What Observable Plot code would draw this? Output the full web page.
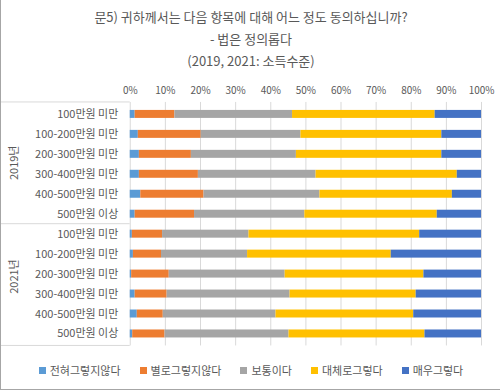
<!DOCTYPE html>
<html>
<head>
<meta charset="utf-8">
<script src="https://cdn.jsdelivr.net/npm/d3@7"></script>
<script src="https://cdn.jsdelivr.net/npm/@observablehq/plot@0.6"></script>
<style>
  html, body { margin: 0; padding: 0; background: #fff; }
  #wrap { position: relative; width: 500px; height: 390px; box-sizing: border-box;
          border-left: 1px solid #a6a6a6; border-bottom: 1px solid #a6a6a6; overflow: hidden;
          font-family: "Noto Sans CJK KR", "Noto Sans", sans-serif; color: #595959; }
  #title { position: absolute; left: 0; top: 6px; width: 500px; text-align: center;
           font-size: 13px; line-height: 22px; }
  #chart { position: absolute; left: -1px; top: 72px; }
  #legend { position: absolute; left: 0; top: 362px; width: 500px; height: 16px;
            display: flex; justify-content: center; align-items: center; gap: 19px;
            font-size: 11px; line-height: 16px; }
  #legend .item { display: flex; align-items: center; gap: 4px; }
  #legend .sw { width: 7px; height: 7px; display: inline-block; }
</style>
</head>
<body>
<div id="wrap">
  <div id="title"></div>
  <div id="chart"></div>
  <div id="legend"></div>
</div>
<script>
const titleLines = ["문5) 귀하께서는 다음 항목에 대해 어느 정도 동의하십니까?", "- 법은 정의롭다", "(2019, 2021: 소득수준)"];
const years = ["2019년", "2021년"];
const categories = ["100만원 미만", "100-200만원 미만", "200-300만원 미만", "300-400만원 미만", "400-500만원 미만", "500만원 이상"];
const responses = ["전혀그렇지않다", "별로그렇지않다", "보통이다", "대체로그렇다", "매우그렇다"];
const colors = ["#5B9BD5", "#ED7D31", "#A5A5A5", "#FFC000", "#4472C4"];
const xTicks = [0, 10, 20, 30, 40, 50, 60, 70, 80, 90, 100];

// values per category, in response order (percent)
const values2019 = [
  [1.4, 11.3, 33.5, 40.6, 13.2],
  [2.3, 17.9, 28.4, 40.1, 11.3],
  [2.6, 14.8, 29.9, 41.4, 11.3],
  [2.6, 16.8, 33.5, 40.2, 6.9],
  [3.0, 18.0, 33.0, 37.7, 8.3],
  [1.4, 16.9, 31.4, 37.7, 12.6]
];
const values2021 = [
  [0.6, 8.6, 24.6, 48.6, 17.6],
  [0.9, 8.0, 24.5, 40.9, 25.7],
  [0.4, 10.7, 33.0, 39.5, 16.4],
  [1.4, 9.1, 35.0, 35.9, 18.6],
  [2.0, 7.4, 32.1, 39.2, 19.3],
  [0.7, 9.2, 35.3, 38.7, 16.1]
];

document.getElementById("title").innerHTML = titleLines.map(t => `<div>${t}</div>`).join("");

const key = (yr, c) => yr + "|" + c;
const yDomain = years.flatMap(yr => categories.map(c => key(yr, c)));
const table = [];
[values2019, values2021].forEach((vals, yi) => {
  vals.forEach((row, ci) => {
    row.forEach((v, ri) => {
      table.push({row: key(years[yi], categories[ci]), response: responses[ri], value: v});
    });
  });
});

function structure(index, scales, values, dims) {
  const y = scales.y;
  const bw = y.bandwidth ? y.bandwidth() : 0;
  const top = dims.marginTop, bottom = dims.height - dims.marginBottom;
  const mid = (y(key(years[0], categories[categories.length - 1])) + y(key(years[1], categories[0]))) / 2 + bw / 2;
  const g = d3.create("svg:g");
  for (const yy of [top, mid, bottom]) {
    g.append("line").attr("x1", 0).attr("x2", dims.marginLeft).attr("y1", yy).attr("y2", yy)
      .attr("stroke", "#d9d9d9").attr("stroke-width", 1);
  }
  const centers = [(top + mid) / 2, (mid + bottom) / 2 - 8];
  years.forEach((yr, i) => {
    g.append("text").attr("transform", `translate(13,${centers[i]}) rotate(-90)`)
      .attr("text-anchor", "middle").attr("dominant-baseline", "central")
      .attr("fill", "#595959").attr("font-size", 11).text(yr);
  });
  return g.node();
}

const chart = Plot.plot({
  width: 501,
  height: 290,
  marginTop: 30,
  marginBottom: 16,
  marginLeft: 130,
  marginRight: 19,
  style: {fontFamily: '"Noto Sans CJK KR", "Noto Sans", sans-serif', color: "#595959", background: "transparent"},
  x: {domain: [0, 100]},
  y: {domain: yDomain, paddingInner: 0.6, paddingOuter: 0.3},
  color: {domain: responses, range: colors},
  marks: [
    Plot.gridX(xTicks, {stroke: "#d9d9d9", strokeOpacity: 1}),
    Plot.barX(table, Plot.stackX({y: "row", x: "value", fill: "response", order: responses})),
    Plot.axisX(xTicks, {anchor: "top", tickSize: 0, tickPadding: 8, fontSize: 10, label: null, tickFormat: d => d + "%"}),
    Plot.axisY({tickSize: 0, tickPadding: 12, fontSize: 11, label: null, tickFormat: d => d.split("|")[1]}),
    structure
  ]
});
document.getElementById("chart").appendChild(chart);

document.getElementById("legend").innerHTML = responses.map((r, i) =>
  `<span class="item"><span class="sw" style="background:${colors[i]}"></span>${r}</span>`).join("");
</script>
</body>
</html>
